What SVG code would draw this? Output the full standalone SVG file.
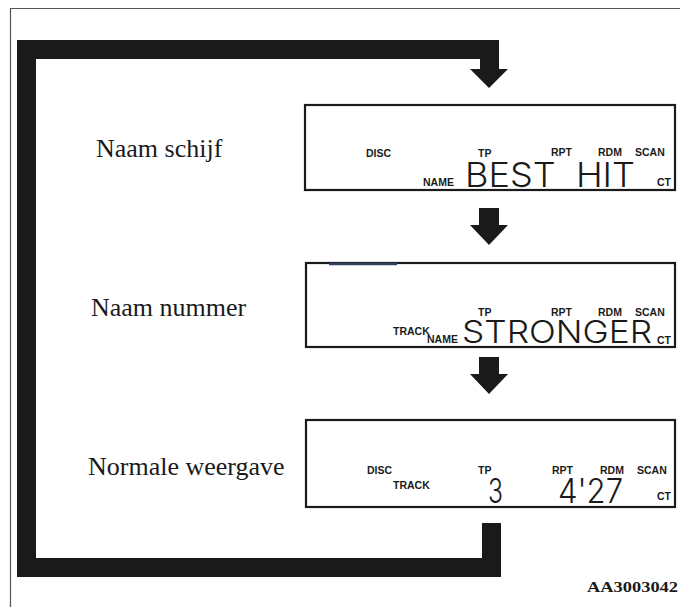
<svg xmlns="http://www.w3.org/2000/svg" width="680" height="607" viewBox="0 0 680 607">
<style>
.lbl{font-family:"Liberation Serif","Times New Roman",serif;font-size:26px;fill:#1a1a1a}
.ind{font-family:"Liberation Sans",Arial,sans-serif;font-size:10.5px;font-weight:bold;fill:#1a1a1a}
.seg{font-family:Inter,Lato,"DejaVu Sans",sans-serif;font-weight:300;fill:#1a1a1a;white-space:pre}
.box{fill:#fff;stroke:#1a1a1a;stroke-width:2.2}
.thick{fill:#1a1a1a}
</style>
<rect x="0" y="0" width="680" height="607" fill="#fff"/>
<path d="M10.5,620 V8.5 H690" fill="none" stroke="#555" stroke-width="1.2"/>
<g id="connectors">
<path class="thick" d="M17,40 H499 V69 H508 L489,88 L470,69 H480 V59 H36 V558 H482 V523 H501 V577 H17 Z"/>
<path class="thick" d="M479,208 H499 V225 H508 L489,245 L470,225 H479 Z"/>
<path class="thick" d="M479,357 H499 V374 H508 L489,394 L470,374 H479 Z"/>
</g>
<g id="node-naam-schijf">
<text class="lbl" x="96" y="157">Naam schijf</text>
<rect class="box" x="305" y="105" width="370" height="85"/>
<text class="ind" x="366" y="157">DISC</text>
<text class="ind" x="478" y="157">TP</text>
<text class="ind" x="551" y="156">RPT</text>
<text class="ind" x="598" y="156">RDM</text>
<text class="ind" x="635" y="156">SCAN</text>
<text class="ind" x="423" y="186">NAME</text>
<text class="seg" x="465" y="187" font-size="34" textLength="170" lengthAdjust="spacingAndGlyphs">BEST  HIT</text>
<text class="ind" x="657" y="186">CT</text>
</g>
<g id="node-naam-nummer">
<text class="lbl" x="91" y="316">Naam nummer</text>
<rect class="box" x="306" y="263" width="369" height="84"/>
<line x1="329" y1="264" x2="397" y2="264" stroke="#2f4460" stroke-width="2.5"/>
<text class="ind" x="478" y="316">TP</text>
<text class="ind" x="551" y="316">RPT</text>
<text class="ind" x="598" y="316">RDM</text>
<text class="ind" x="635" y="316">SCAN</text>
<text class="ind" x="393" y="335">TRACK</text>
<text class="ind" x="427" y="343">NAME</text>
<text class="seg" x="462" y="343" font-size="31" textLength="190" lengthAdjust="spacingAndGlyphs">STRONGER</text>
<text class="ind" x="657" y="344">CT</text>
</g>
<g id="node-normale-weergave">
<text class="lbl" x="88" y="475">Normale weergave</text>
<rect class="box" x="306" y="420" width="369" height="87"/>
<text class="ind" x="367" y="474">DISC</text>
<text class="ind" x="393" y="489">TRACK</text>
<text class="ind" x="478" y="474">TP</text>
<text class="ind" x="552" y="474">RPT</text>
<text class="ind" x="600" y="474">RDM</text>
<text class="ind" x="637" y="474">SCAN</text>
<text class="seg" x="488" y="503" font-size="34" textLength="15" lengthAdjust="spacingAndGlyphs">3</text>
<text class="seg" x="558" y="503" font-size="34" textLength="65" lengthAdjust="spacingAndGlyphs">4'27</text>
<text class="ind" x="657" y="500">CT</text>
</g>
<text x="678" y="592" text-anchor="end" font-family="'Liberation Serif','Times New Roman',serif" font-size="15" font-weight="bold" fill="#1a1a1a" textLength="91" lengthAdjust="spacingAndGlyphs">AA3003042</text>
</svg>
